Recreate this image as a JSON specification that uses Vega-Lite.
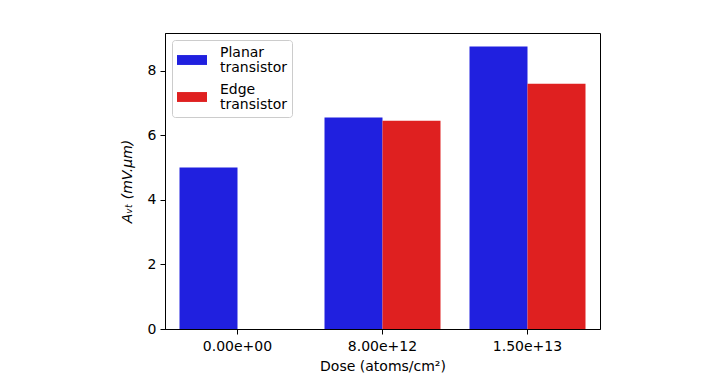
{
  "$schema": "https://vega.github.io/schema/vega-lite/v6.json",
  "width": 435,
  "height": 296,
  "autosize": {"type": "none"},
  "padding": {"left": 165, "top": 33, "right": 103, "bottom": 47},
  "background": "white",
  "data": {
    "values": [
      {"dose": "0.00e+00", "group": "Planar transistor", "avt": 5.0},
      {"dose": "8.00e+12", "group": "Planar transistor", "avt": 6.55},
      {"dose": "8.00e+12", "group": "Edge transistor", "avt": 6.45},
      {"dose": "1.50e+13", "group": "Planar transistor", "avt": 8.75},
      {"dose": "1.50e+13", "group": "Edge transistor", "avt": 7.6}
    ]
  },
  "mark": {"type": "bar"},
  "encoding": {
    "x": {
      "field": "dose",
      "type": "ordinal",
      "sort": ["0.00e+00", "8.00e+12", "1.50e+13"],
      "scale": {"paddingInner": 0.2, "paddingOuter": 0.1},
      "axis": {"title": "Dose (atoms/cm²)", "labelAngle": 0, "labelPadding": 5, "titlePadding": 6}
    },
    "xOffset": {
      "field": "group",
      "type": "nominal",
      "scale": {"domain": ["Planar transistor", "Edge transistor"], "paddingInner": 0, "paddingOuter": 0}
    },
    "y": {
      "field": "avt",
      "type": "quantitative",
      "scale": {"domain": [0, 9.17], "nice": false},
      "axis": {"title": "Aᵥₜ (mV.μm)", "titleFontStyle": "italic", "values": [0, 2, 4, 6, 8], "grid": false, "titlePadding": 13}
    },
    "color": {
      "field": "group",
      "type": "nominal",
      "scale": {"domain": ["Planar transistor", "Edge transistor"], "range": ["#2020df", "#df2020"]},
      "legend": {
        "title": null,
        "orient": "top-left",
        "offset": 7,
        "padding": 5,
        "fillColor": "white",
        "strokeColor": "#cccccc",
        "cornerRadius": 3,
        "labelExpr": "split(datum.label, ' ')",
        "labelBaseline": "bottom",
        "symbolType": "M-1,-0.33H1V0.33H-1Z",
        "symbolSize": 900,
        "symbolStrokeWidth": 0,
        "symbolOpacity": 1,
        "rowPadding": 7,
        "labelOffset": 13,
        "labelFontSize": 14,
        "labelColor": "black"
      }
    }
  },
  "config": {
    "font": "DejaVu Sans",
    "view": {"stroke": "black", "strokeWidth": 1},
    "style": {"guide-label": {"lineHeight": 15}},
    "axis": {
      "labelFont": "DejaVu Sans",
      "titleFont": "DejaVu Sans",
      "labelFontSize": 14,
      "titleFontSize": 14,
      "labelColor": "black",
      "titleColor": "black",
      "titleFontWeight": "normal",
      "domainColor": "black",
      "tickColor": "black",
      "tickSize": 5,
      "labelPadding": 4
    },
    "legend": {"labelFont": "DejaVu Sans"}
  }
}
